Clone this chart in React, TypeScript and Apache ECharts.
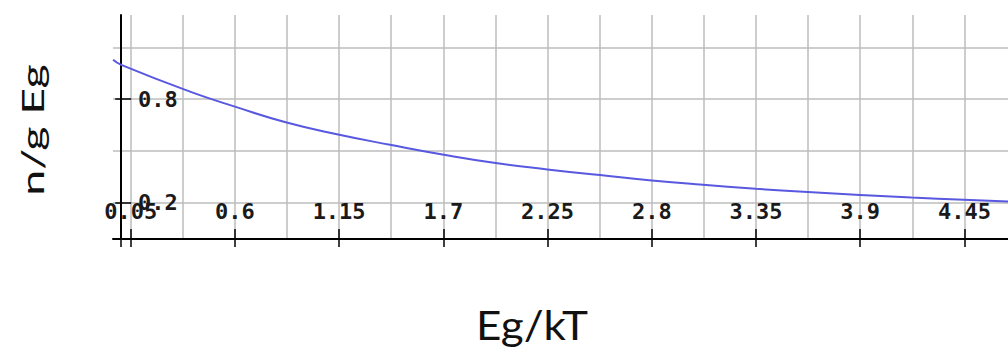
import React, { useEffect, useRef } from "react";
import * as echarts from "echarts";

// Curve samples (x = Eg/kT, y = n/g Eg)
const curveX = [-0.043, 0, 0.363, 0.6, 0.873, 1.151, 1.418, 1.703, 1.976, 2.249, 2.527, 2.8, 3.054, 3.348, 3.623, 3.899, 4.171, 4.447, 4.68];
const curveY = [1.028, 0.999, 0.844, 0.757, 0.665, 0.594, 0.536, 0.478, 0.43, 0.393, 0.36, 0.329, 0.305, 0.281, 0.262, 0.245, 0.23, 0.217, 0.207];

// Axis tick labels and grid lines
const xTickLabels = ["0.05", "0.6", "1.15", "1.7", "2.25", "2.8", "3.35", "3.9", "4.45"];
const xGridValues = [0.05, 0.325, 0.6, 0.875, 1.15, 1.425, 1.7, 1.975, 2.25, 2.525, 2.8, 3.075, 3.35, 3.625, 3.9, 4.175, 4.45];
const yTickLabels = ["0.2", "0.8"];
const yGridValues = [0.2, 0.5, 0.8, 1.1];

const xTitle = "Eg/kT";
const yTitle = "n/g Eg";

const X_MIN = -0.0433;
const X_MAX = 4.68;
const Y_MIN = -0.0104;
const Y_MAX = 1.288;

export default function App() {
  const ref = useRef<HTMLDivElement>(null);

  useEffect(() => {
    if (!ref.current) return;
    const chart = echarts.init(ref.current, null, { renderer: "svg" });
    const xTickValues = xTickLabels.map(Number);
    const yTickValues = yTickLabels.map(Number);
    const labelFont = {
      fontFamily: "DejaVu Sans Mono",
      fontWeight: "bold" as const,
      fontSize: 22,
      color: "#1a1a1a",
    };
    const gridLine = { color: "#bdbdbd", width: 1.5 };
    const baseX = { type: "value" as const, min: X_MIN, max: X_MAX, position: "bottom" as const, gridIndex: 0 };
    const baseY = { type: "value" as const, min: Y_MIN, max: Y_MAX, position: "left" as const, gridIndex: 0 };

    chart.setOption({
      animation: false,
      backgroundColor: "#ffffff",
      grid: { left: 113, right: 0, top: 15, bottom: 112, containLabel: false, outerBoundsMode: "none" },
      xAxis: [
        {
          ...baseX,
          axisLine: { show: true, onZero: false, lineStyle: { color: "#000", width: 2 } },
          axisTick: { show: true, inside: true, length: 10, customValues: xTickValues, lineStyle: { color: "#000", width: 1.5 } },
          axisLabel: {
            show: true,
            inside: true,
            margin: 17,
            customValues: xTickValues,
            formatter: (v: number) => xTickLabels[xTickValues.indexOf(v)] ?? String(v),
            ...labelFont,
          },
          splitLine: { show: false },
        },
        {
          ...baseX,
          axisLine: { show: false, onZero: false },
          axisTick: { show: false, customValues: xGridValues },
          axisLabel: { show: false },
          splitLine: { show: true, lineStyle: gridLine },
        },
        {
          ...baseX,
          axisLine: { show: false, onZero: false },
          axisTick: { show: true, inside: false, length: 8, customValues: [0, ...xTickValues], lineStyle: { color: "#000", width: 1.5 } },
          axisLabel: { show: false },
          splitLine: { show: false },
        },
      ],
      yAxis: [
        {
          ...baseY,
          axisLine: { show: true, onZero: true, lineStyle: { color: "#000", width: 2 } },
          axisTick: { show: true, inside: true, length: 10, customValues: yTickValues, lineStyle: { color: "#000", width: 1.5 } },
          axisLabel: {
            show: true,
            inside: true,
            margin: 25,
            padding: [8, 0, 0, 0],
            customValues: yTickValues,
            formatter: (v: number) => yTickLabels[yTickValues.indexOf(v)] ?? String(v),
            ...labelFont,
          },
          splitLine: { show: false },
        },
        {
          ...baseY,
          axisLine: { show: false, onZero: true },
          axisTick: { show: false, customValues: yGridValues },
          axisLabel: { show: false },
          splitLine: { show: true, lineStyle: gridLine },
        },
        {
          ...baseY,
          axisLine: { show: false, onZero: true },
          axisTick: { show: true, inside: false, length: 6, customValues: yTickValues, lineStyle: { color: "#000", width: 1.5 } },
          axisLabel: { show: false },
          splitLine: { show: false },
        },
      ],
      series: [
        {
          type: "line",
          xAxisIndex: 0,
          yAxisIndex: 0,
          data: curveX.map((x, i) => [x, curveY[i]]),
          showSymbol: false,
          smooth: 0.5,
          clip: true,
          lineStyle: { color: "#5858e0", width: 2 },
        },
      ],
      graphic: [
        {
          type: "text",
          x: 532,
          y: 325,
          scaleX: 1.1,
          style: {
            text: xTitle,
            font: "40px Lato",
            fill: "#111",
            align: "center",
            verticalAlign: "middle",
            textAlign: "center",
            textVerticalAlign: "middle",
          },
        },
        {
          type: "text",
          x: 32,
          y: 130,
          rotation: Math.PI / 2,
          scaleX: 1.5,
          style: {
            text: yTitle,
            font: "31px Lato",
            fill: "#111",
            align: "center",
            verticalAlign: "middle",
            textAlign: "center",
            textVerticalAlign: "middle",
          },
        },
      ],
    });
    return () => chart.dispose();
  }, []);

  return (
    <div
      ref={ref}
      style={{ position: "fixed", left: 0, top: 0, width: 1008, height: 351, background: "#fff" }}
    />
  );
}
